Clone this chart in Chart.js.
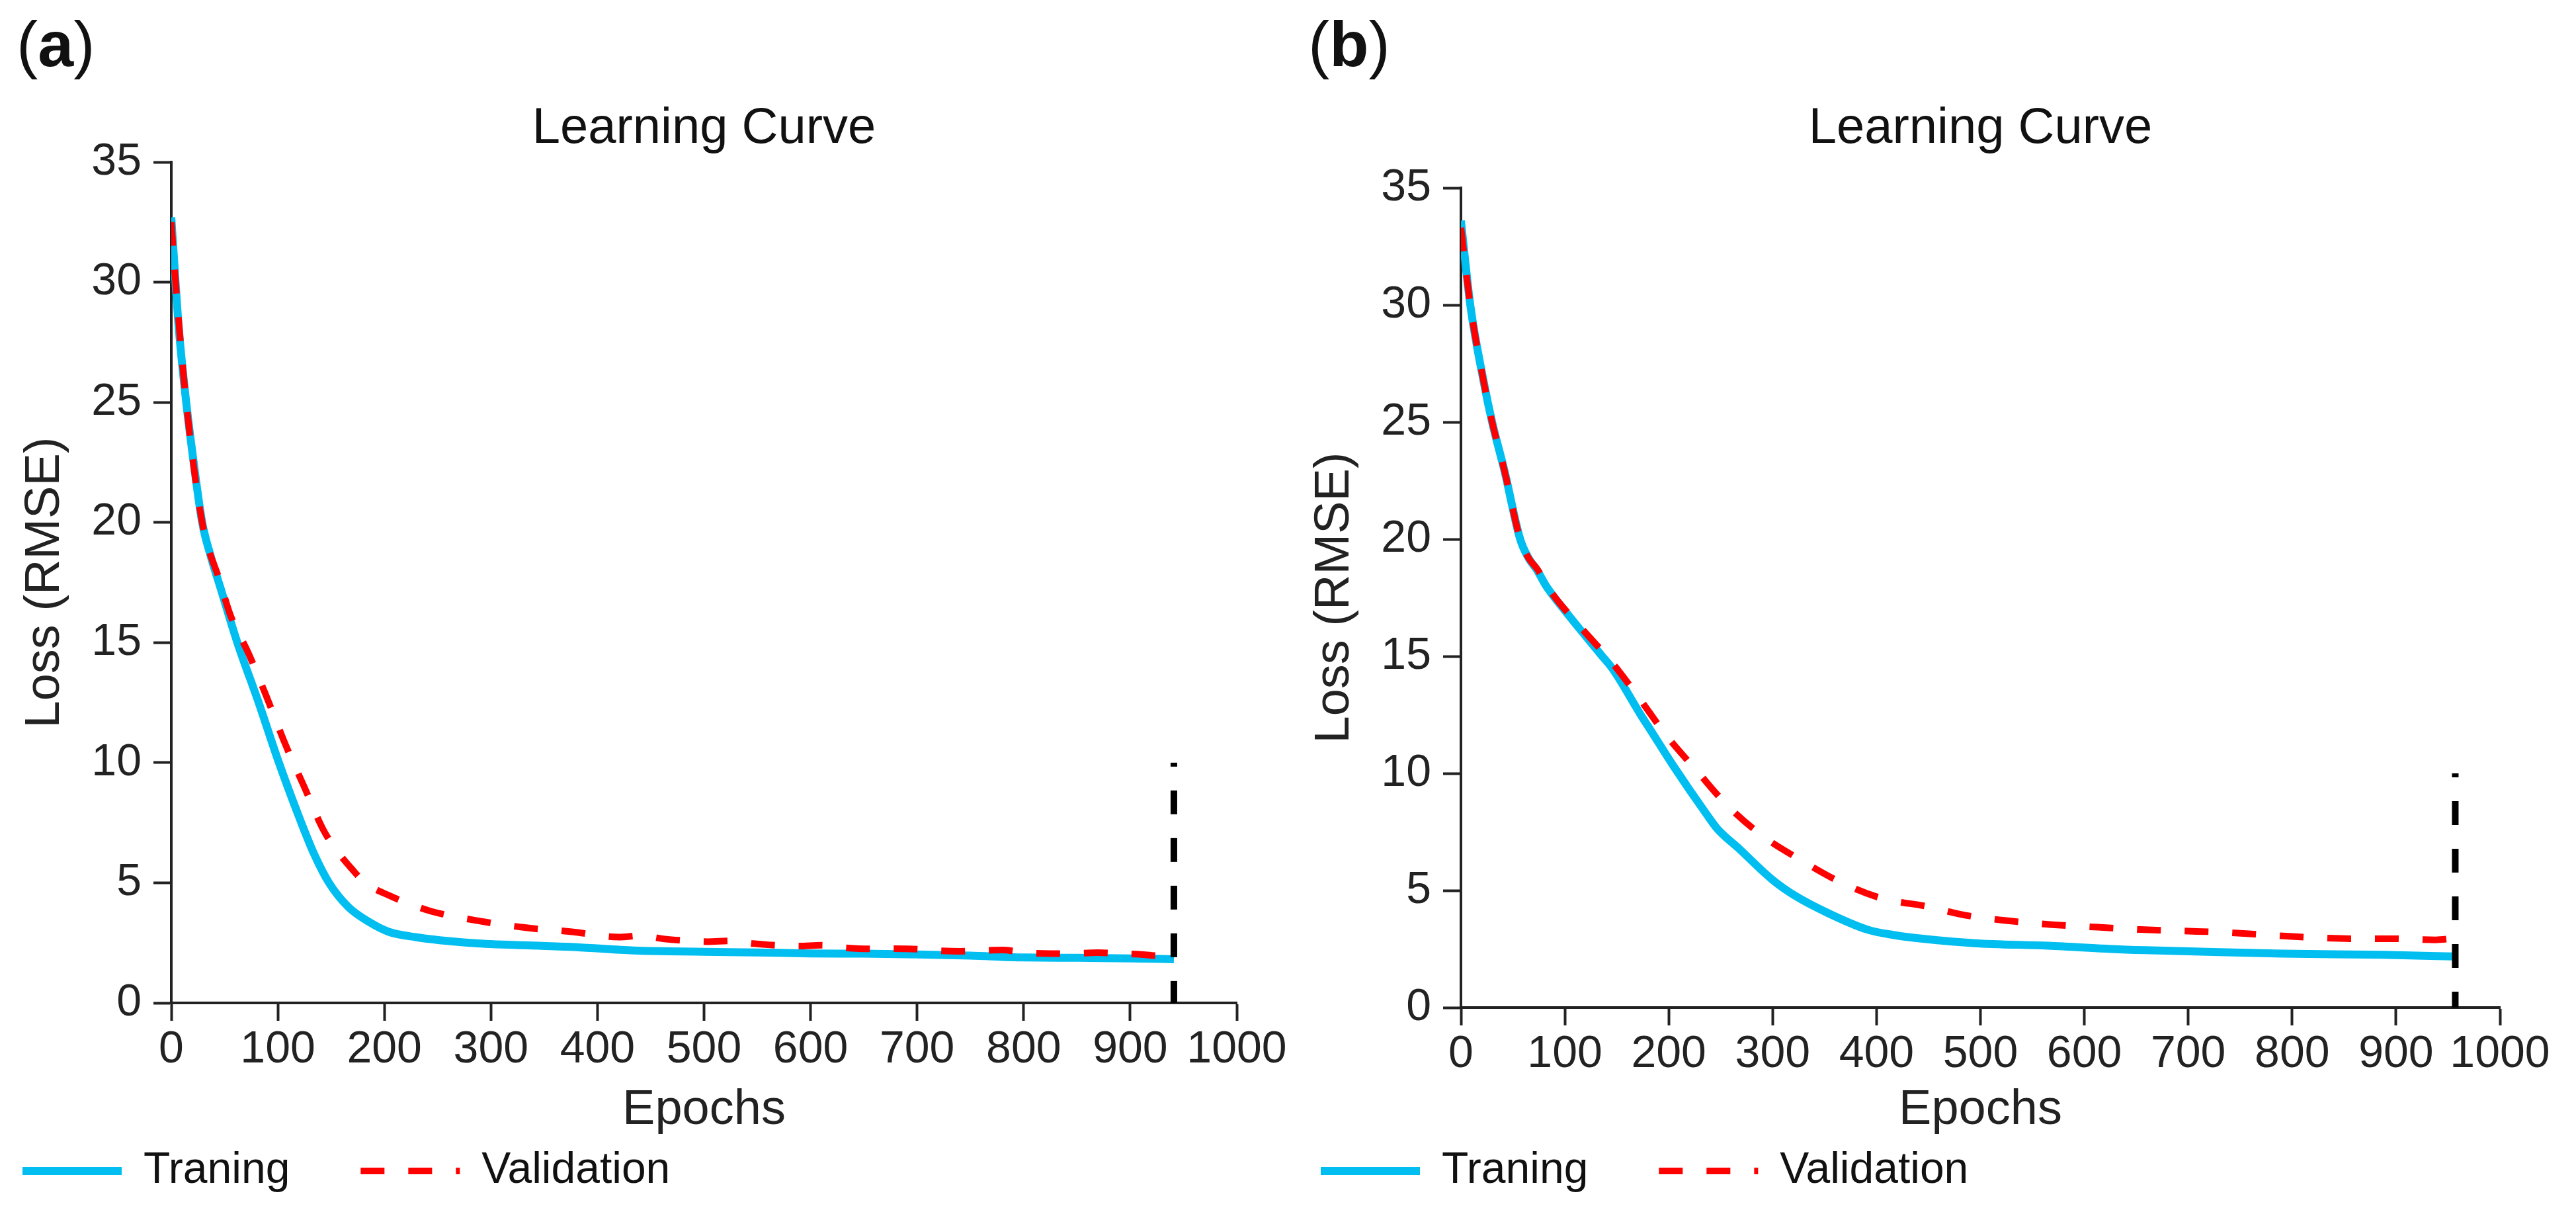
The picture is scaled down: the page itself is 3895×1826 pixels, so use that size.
<!DOCTYPE html>
<html><head><meta charset="utf-8">
<script src="https://cdn.jsdelivr.net/npm/chart.js@4.4.1/dist/chart.umd.min.js"></script>
<style>
html,body{margin:0;padding:0;background:#fff;width:3895px;height:1826px;overflow:hidden;position:relative;}
canvas{position:absolute;top:0;}
.pl{position:absolute;font-family:'Liberation Sans',Arial,sans-serif;font-size:97px;line-height:97px;color:#111;}
</style></head><body>
<div class="pl" style="left:25px;top:18px">(<b>a</b>)</div>
<div class="pl" style="left:1978px;top:18px">(<b>b</b>)</div>
<canvas id="ca" width="2030" height="1826" style="left:-73px;width:2030px;height:1826px"></canvas>
<canvas id="cb" width="1980" height="1826" style="left:1890px;width:1980px;height:1826px"></canvas>
<script>
// ---------- data ----------
const chartTitle = 'Learning Curve';
const xAxisTitle = 'Epochs';
const yAxisTitle = 'Loss (RMSE)';
const seriesNames = ['Traning', 'Validation'];
const xTickRange = [0, 1000, 100];
const yTickRange = [0, 35, 5];

// panel (a)
const epochsA_train = [0,4,7,14,21,29,37,46,62,82,101,122,134,148,166,186,204,229,280,330,380,434,500,550,600,650,700,750,800,850,900,941];
const lossA_train   = [32.7,30.0,28.1,25.0,22.5,20.0,18.6,17.3,15.0,12.5,10.0,7.5,6.2,5.0,4.0,3.36,2.96,2.74,2.5,2.4,2.32,2.18,2.13,2.10,2.06,2.05,2.02,1.97,1.89,1.88,1.85,1.82];
const epochsA_valid = [0,4,14,29,46,55,73,91,107,125,143,156,169,182,204,225,245,289,333,376,420,440,463,480,503,525,546,560,589,610,631,655,675,700,718,740,760,780,802,825,846,870,889,910,925,941];
const lossA_valid   = [32.5,30.0,25.0,20.0,17.5,16.2,14.5,12.57,10.77,8.97,7.18,6.3,5.6,5.0,4.48,4.1,3.8,3.41,3.13,2.96,2.74,2.80,2.66,2.60,2.55,2.58,2.47,2.42,2.37,2.40,2.30,2.25,2.26,2.24,2.18,2.15,2.18,2.20,2.09,2.05,2.06,2.09,2.06,2.02,1.97,2.18];
const stopA = 941;

// panel (b)
const epochsB_train = [0,9,22,30,42,57,65,73,82,102,136,146,174,181,204,236,247,268,300,321,353,391,416,440,494,565,637,695,791,888,955];
const lossB_train   = [33.6,30.0,26.7,25.0,22.9,20.0,19.2,18.7,18.0,16.84,15.0,14.46,12.43,11.95,10.35,8.28,7.62,6.77,5.45,4.79,4.04,3.33,3.1,2.96,2.75,2.64,2.48,2.41,2.30,2.25,2.18];
const epochsB_valid = [0,9,22,30,42,57,65,73,87,116,146,172,198,227,256,290,327,365,406,447,487,528,569,613,654,694,736,774,815,856,897,938,955];
const lossB_valid   = [33.3,30.0,26.7,25.0,22.9,20.0,19.2,18.75,17.73,16.2,14.7,13.18,11.6,10.11,8.65,7.34,6.3,5.36,4.65,4.33,3.93,3.7,3.54,3.43,3.33,3.27,3.21,3.1,3.0,2.94,2.94,2.89,2.95];
const stopB = 957;

// early-stopping marker drawn from its top value down to the axis
const stopMarkerTopBottom = [10, 0];

// ---------- styling ----------
const FONT = "'Liberation Sans', Arial, sans-serif";
Chart.defaults.font.family = FONT;
const INK = '#222';
const BLUE = '#00BEF0';
const RED = '#FF0000';

function pts(xs, ys){ return xs.map((x,i)=>({x:x, y:ys[i]})); }

function legendLabels(chart){
  return Chart.defaults.plugins.legend.labels.generateLabels(chart).map(it=>{
    const ds = chart.data.datasets[it.datasetIndex];
    it.lineDash = ds.borderDash || [];
    it.lineDashOffset = 0;
    it.lineWidth = ds.borderWidth;
    it.strokeStyle = ds.borderColor;
    it.fillStyle = ds.borderColor;
    it.lineCap = 'butt';
    return it;
  });
}

function makeChart(id, tx, ty, vx, vy, stop, lay){
  const axisCommon = {
    grid:{display:true, drawOnChartArea:false, drawTicks:true, tickLength:27, tickWidth:4, tickColor:INK},
    border:{display:true, width:4, color:INK}
  };
  return new Chart(document.getElementById(id), {
    type:'line',
    data:{datasets:[
      {label:seriesNames[0], data:pts(tx,ty), borderColor:BLUE, backgroundColor:BLUE, borderWidth:12,
       pointRadius:0, cubicInterpolationMode:'monotone', borderCapStyle:'butt', order:2},
      {label:seriesNames[1], data:pts(vx,vy), borderColor:RED, backgroundColor:RED, borderWidth:10,
       borderDash:[36,36], pointRadius:0, cubicInterpolationMode:'monotone', borderCapStyle:'butt', order:1},
      {label:'stop', data:[{x:stop,y:stopMarkerTopBottom[0]},{x:stop,y:stopMarkerTopBottom[1]}],
       borderColor:'#000', backgroundColor:'#000', borderWidth:10, borderDash:[36,36], borderDashOffset:30,
       pointRadius:0, borderCapStyle:'butt', order:0}
    ]},
    options:{
      responsive:false, animation:false, devicePixelRatio:1, events:[],
      layout:{padding:{left:0, top:0, right:lay.pr, bottom:13}},
      plugins:{
        tooltip:{enabled:false},
        title:{display:true, text:chartTitle, fullSize:false, color:'#111',
               font:{size:76, weight:'normal', lineHeight:1}, padding:{top:157, bottom:lay.tpb}},
        legend:{position:'bottom', align:'start',
          labels:{usePointStyle:true, pointStyle:'line', pointStyleWidth:150, padding:107, color:'#111',
                  font:{size:66}, generateLabels:legendLabels,
                  filter:(it)=>it.datasetIndex<2, sort:(a,b)=>a.datasetIndex-b.datasetIndex}}
      },
      scales:{
        x:Object.assign({type:'linear', min:xTickRange[0], max:xTickRange[1],
          ticks:{stepSize:xTickRange[2], autoSkip:false, maxRotation:0, padding:3, color:INK, font:{size:68},
                 callback:(v)=>String(v)},
          title:{display:true, text:xAxisTitle, color:INK, font:{size:74, lineHeight:1}, padding:{top:0, bottom:-86}},
          afterFit:(s)=>{ s.height = lay.xH; s.paddingLeft = 0; s.paddingRight = 0; }
        }, axisCommon),
        y:Object.assign({type:'linear', min:yTickRange[0], max:yTickRange[1],
          ticks:{stepSize:yTickRange[2], padding:18, color:INK, font:{size:68}, callback:(v)=>String(v)},
          title:{display:true, text:yAxisTitle, color:INK, font:{size:74, lineHeight:1}, padding:{top:lay.ytp, bottom:0}},
          afterFit:(s)=>{ s.width = lay.yW; s.paddingTop = 0; s.paddingBottom = 0; }
        }, axisCommon)
      }
    }
  });
}

makeChart('ca', epochsA_train, lossA_train, epochsA_valid, lossA_valid, stopA,
  {pr:87, tpb:12, xH:114, yW:332, ytp:105});
makeChart('cb', epochsB_train, lossB_train, epochsB_valid, lossB_valid, stopB,
  {pr:90, tpb:51, xH:107, yW:319, ytp:92});
</script>
</body></html>
